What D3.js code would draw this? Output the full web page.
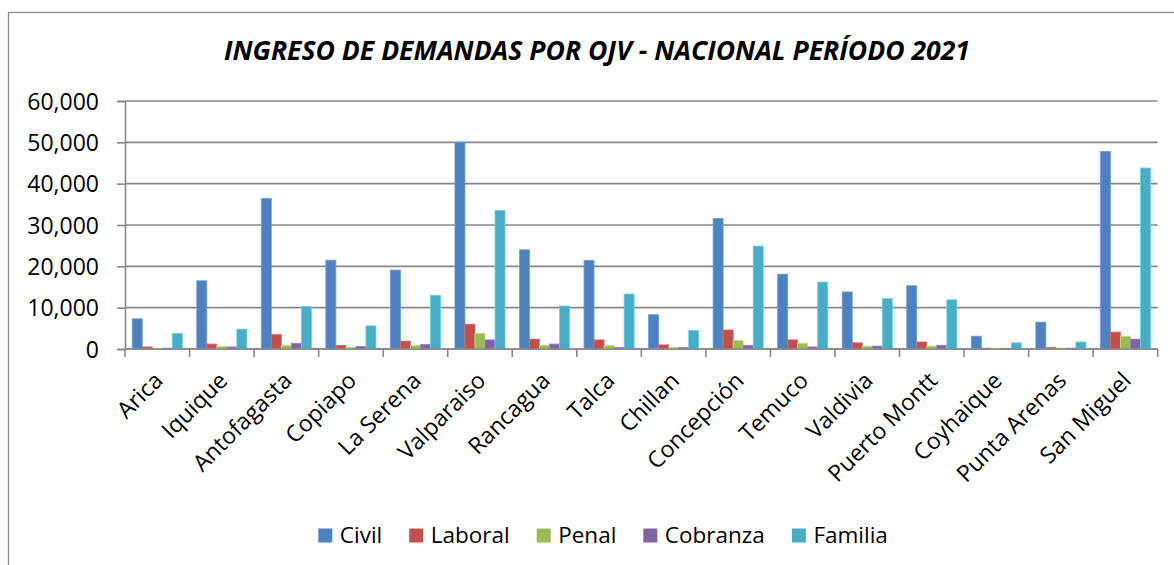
<!DOCTYPE html>
<html>
<head>
<meta charset="utf-8">
<script src="https://cdn.jsdelivr.net/npm/d3@7"></script>
<style>
  html, body { margin: 0; padding: 0; background: #fff; }
  svg { display: block; }
  text { font-family: "Open Sans", "Noto Sans", sans-serif; fill: #000; }
</style>
</head>
<body>
<svg id="chart" width="1174" height="565"></svg>
<script>
const title = "INGRESO DE DEMANDAS POR OJV - NACIONAL PERÍODO 2021";
const categories = ["Arica","Iquique","Antofagasta","Copiapo","La Serena","Valparaiso","Rancagua","Talca","Chillan","Concepción","Temuco","Valdivia","Puerto Montt","Coyhaique","Punta Arenas","San Miguel"];
const seriesNames = ["Civil","Laboral","Penal","Cobranza","Familia"];
const civil    = [7300,16500,36400,21500,19100,50000,24000,21400,8300,31600,18100,13800,15300,3100,6500,47800];
const laboral  = [500,1200,3500,900,1900,6000,2400,2200,1000,4600,2200,1500,1700,200,400,4100];
const penal    = [200,600,900,400,900,3800,900,900,400,2100,1400,700,700,100,200,3100];
const cobranza = [200,500,1400,600,1100,2200,1200,400,400,900,500,700,900,100,200,2400];
const familia  = [3800,4800,10300,5600,13000,33500,10400,13300,4500,24900,16200,12200,11900,1500,1700,43800];
const yTicks = [0,10000,20000,30000,40000,50000,60000];
const colors = ["#4F81BD","#C0504D","#9BBB59","#8064A2","#4BACC6"];

const seriesValues = [civil, laboral, penal, cobranza, familia];
const rows = categories.map((c, i) => ({cat: c, vals: seriesNames.map((s, k) => ({s, k, v: seriesValues[k][i]}))}));

const svg = d3.select("#chart");
const L = 125, R = 1157.7, T = 101, B = 349;

// frame
svg.append("rect").attr("x", 8.5).attr("y", 12.5).attr("width", 1250).attr("height", 700)
  .attr("fill", "none").attr("stroke", "#8a8a8a").attr("stroke-width", 1.3);

// title
const t = svg.append("text").attr("x", 597).attr("y", 60).attr("text-anchor", "middle")
  .style("font-size", "27px").style("font-weight", "bold").style("font-style", "italic")
  .text(title);
t.attr("textLength", 746).attr("lengthAdjust", "spacingAndGlyphs");

const x = d3.scaleBand().domain(categories).range([L, R]).paddingInner(0).paddingOuter(0);
const x1 = d3.scaleBand().domain(seriesNames).range([0, x.bandwidth()]).paddingInner(0).paddingOuter(0.72);
const y = d3.scaleLinear().domain([0, 60000]).range([B, T]);

// gridlines
svg.append("g").selectAll("line").data(yTicks).join("line")
  .attr("x1", L).attr("x2", R).attr("y1", d => y(d)).attr("y2", d => y(d))
  .attr("stroke", "#878787").attr("stroke-width", 1.6);

// y axis
const yAxis = svg.append("g").attr("transform", `translate(${L},0)`)
  .call(d3.axisLeft(y).tickValues(yTicks).tickSize(8).tickPadding(18).tickFormat(d3.format(",")));
yAxis.select(".domain").attr("stroke", "#878787").attr("stroke-width", 1.6);
yAxis.selectAll(".tick line").attr("stroke", "#878787").attr("stroke-width", 1.6);
yAxis.selectAll(".tick text").style("font-size", "23px").style("font-family", "'Open Sans', sans-serif").attr("fill", "#000").attr("dy", "0.36em");

// bars
const g = svg.append("g").selectAll("g").data(rows).join("g")
  .attr("transform", d => `translate(${x(d.cat)},0)`);
g.selectAll("rect").data(d => d.vals).join("rect")
  .attr("x", d => x1(d.s)).attr("width", x1.bandwidth())
  .attr("y", d => y(d.v)).attr("height", d => y(0) - y(d.v))
  .attr("fill", d => colors[d.k])
  .attr("stroke", d => d3.color(colors[d.k]).brighter(0.6)).attr("stroke-width", 0.8);

// x axis line and ticks at category boundaries
svg.append("line").attr("x1", L).attr("x2", R).attr("y1", B).attr("y2", B)
  .attr("stroke", "#878787").attr("stroke-width", 1.6);
const bounds = categories.map(c => x(c)).concat([R]);
svg.append("g").selectAll("line").data(bounds).join("line")
  .attr("x1", d => d).attr("x2", d => d).attr("y1", B).attr("y2", B + 8)
  .attr("stroke", "#878787").attr("stroke-width", 1.6);

// x labels
svg.append("g").selectAll("text").data(categories).join("text")
  .attr("text-anchor", "end")
  .attr("transform", d => `translate(${x(d) + x.bandwidth() / 2 + 7},382) rotate(-45)`)
  .style("font-size", "23px")
  .text(d => d);

// legend
const lg = svg.append("g");
let lx = 318.3;
seriesNames.forEach((s, k) => {
  lg.append("rect").attr("x", lx).attr("y", 528.5).attr("width", 14).attr("height", 14).attr("fill", colors[k]);
  const tx = lg.append("text").attr("x", lx + 21.5).attr("y", 543).style("font-size", "22.5px").text(s);
  lx = lx + 21.5 + tx.node().getComputedTextLength() + 27;
});
</script>
</body>
</html>
